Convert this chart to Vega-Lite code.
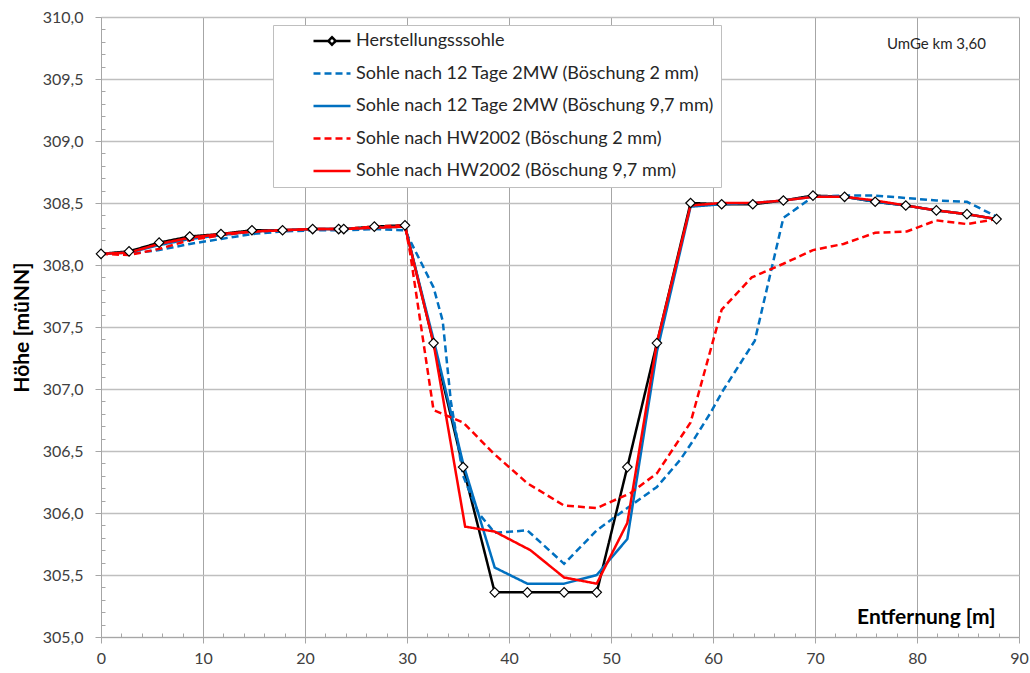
{
  "$schema": "https://vega.github.io/schema/vega-lite/v6.json",
  "width": 918,
  "height": 620,
  "autosize": {"type": "none"},
  "padding": {"left": 101, "top": 17, "right": 11, "bottom": 36},
  "background": "white",
  "config": {"font": "Lato", "view": {"stroke": null}},
  "datasets": {
    "profiles": [
      {"s": "H", "x": 0, "y": 308.09}, {"s": "H", "x": 2.75, "y": 308.11}, {"s": "H", "x": 5.7, "y": 308.18}, {"s": "H", "x": 8.7, "y": 308.23},
      {"s": "H", "x": 11.76, "y": 308.25}, {"s": "H", "x": 14.8, "y": 308.28}, {"s": "H", "x": 17.8, "y": 308.28}, {"s": "H", "x": 20.75, "y": 308.29},
      {"s": "H", "x": 23.3, "y": 308.29}, {"s": "H", "x": 23.8, "y": 308.29}, {"s": "H", "x": 26.8, "y": 308.31}, {"s": "H", "x": 29.8, "y": 308.32},
      {"s": "H", "x": 32.6, "y": 307.37}, {"s": "H", "x": 35.5, "y": 306.37}, {"s": "H", "x": 38.6, "y": 305.36}, {"s": "H", "x": 41.8, "y": 305.36},
      {"s": "H", "x": 45.4, "y": 305.36}, {"s": "H", "x": 48.6, "y": 305.36}, {"s": "H", "x": 51.6, "y": 306.37}, {"s": "H", "x": 54.5, "y": 307.37},
      {"s": "H", "x": 57.8, "y": 308.5}, {"s": "H", "x": 60.85, "y": 308.49}, {"s": "H", "x": 63.9, "y": 308.49}, {"s": "H", "x": 66.9, "y": 308.52},
      {"s": "H", "x": 69.8, "y": 308.56}, {"s": "H", "x": 72.9, "y": 308.55}, {"s": "H", "x": 75.9, "y": 308.51}, {"s": "H", "x": 78.9, "y": 308.48},
      {"s": "H", "x": 81.9, "y": 308.44}, {"s": "H", "x": 84.9, "y": 308.41}, {"s": "H", "x": 87.8, "y": 308.37},

      {"s": "B2", "x": 0, "y": 308.09}, {"s": "B2", "x": 2.75, "y": 308.09}, {"s": "B2", "x": 5.7, "y": 308.12}, {"s": "B2", "x": 8.7, "y": 308.17},
      {"s": "B2", "x": 11.76, "y": 308.21}, {"s": "B2", "x": 14.8, "y": 308.25}, {"s": "B2", "x": 17.8, "y": 308.27}, {"s": "B2", "x": 20.75, "y": 308.28},
      {"s": "B2", "x": 23.8, "y": 308.28}, {"s": "B2", "x": 26.8, "y": 308.29}, {"s": "B2", "x": 29.8, "y": 308.28}, {"s": "B2", "x": 32.6, "y": 307.82},
      {"s": "B2", "x": 33.5, "y": 307.55}, {"s": "B2", "x": 34.3, "y": 306.9}, {"s": "B2", "x": 35.5, "y": 306.3}, {"s": "B2", "x": 37.0, "y": 306.0},
      {"s": "B2", "x": 38.6, "y": 305.84}, {"s": "B2", "x": 41.8, "y": 305.86}, {"s": "B2", "x": 45.4, "y": 305.59}, {"s": "B2", "x": 48.6, "y": 305.86},
      {"s": "B2", "x": 51.6, "y": 306.04}, {"s": "B2", "x": 54.5, "y": 306.21}, {"s": "B2", "x": 56.8, "y": 306.43}, {"s": "B2", "x": 58.1, "y": 306.59},
      {"s": "B2", "x": 59.7, "y": 306.8}, {"s": "B2", "x": 61.0, "y": 306.99}, {"s": "B2", "x": 64.1, "y": 307.39}, {"s": "B2", "x": 66.9, "y": 308.38},
      {"s": "B2", "x": 69.8, "y": 308.55}, {"s": "B2", "x": 72.9, "y": 308.56}, {"s": "B2", "x": 75.9, "y": 308.56}, {"s": "B2", "x": 79.0, "y": 308.54},
      {"s": "B2", "x": 81.9, "y": 308.52}, {"s": "B2", "x": 84.9, "y": 308.51}, {"s": "B2", "x": 87.8, "y": 308.39},

      {"s": "B9", "x": 0, "y": 308.09}, {"s": "B9", "x": 2.75, "y": 308.1}, {"s": "B9", "x": 5.7, "y": 308.16}, {"s": "B9", "x": 8.7, "y": 308.21},
      {"s": "B9", "x": 11.76, "y": 308.24}, {"s": "B9", "x": 14.8, "y": 308.27}, {"s": "B9", "x": 17.8, "y": 308.28}, {"s": "B9", "x": 20.75, "y": 308.29},
      {"s": "B9", "x": 23.8, "y": 308.29}, {"s": "B9", "x": 26.8, "y": 308.3}, {"s": "B9", "x": 29.8, "y": 308.31}, {"s": "B9", "x": 32.6, "y": 307.4},
      {"s": "B9", "x": 35.5, "y": 306.4}, {"s": "B9", "x": 38.6, "y": 305.56}, {"s": "B9", "x": 41.8, "y": 305.43}, {"s": "B9", "x": 45.4, "y": 305.43},
      {"s": "B9", "x": 48.6, "y": 305.5}, {"s": "B9", "x": 51.6, "y": 305.79}, {"s": "B9", "x": 54.5, "y": 307.3}, {"s": "B9", "x": 57.8, "y": 308.47},
      {"s": "B9", "x": 60.85, "y": 308.49}, {"s": "B9", "x": 63.9, "y": 308.5}, {"s": "B9", "x": 66.9, "y": 308.52}, {"s": "B9", "x": 69.8, "y": 308.55},
      {"s": "B9", "x": 72.9, "y": 308.55}, {"s": "B9", "x": 75.9, "y": 308.51}, {"s": "B9", "x": 78.9, "y": 308.48}, {"s": "B9", "x": 81.9, "y": 308.44},
      {"s": "B9", "x": 84.9, "y": 308.41}, {"s": "B9", "x": 87.8, "y": 308.37},

      {"s": "R2", "x": 0, "y": 308.09}, {"s": "R2", "x": 2.75, "y": 308.08}, {"s": "R2", "x": 5.7, "y": 308.13}, {"s": "R2", "x": 8.7, "y": 308.2},
      {"s": "R2", "x": 11.76, "y": 308.24}, {"s": "R2", "x": 14.8, "y": 308.27}, {"s": "R2", "x": 17.8, "y": 308.28}, {"s": "R2", "x": 20.75, "y": 308.29},
      {"s": "R2", "x": 23.8, "y": 308.29}, {"s": "R2", "x": 26.8, "y": 308.31}, {"s": "R2", "x": 29.8, "y": 308.32}, {"s": "R2", "x": 30.3, "y": 308.1},
      {"s": "R2", "x": 32.6, "y": 306.83}, {"s": "R2", "x": 35.5, "y": 306.73}, {"s": "R2", "x": 38.5, "y": 306.48}, {"s": "R2", "x": 41.8, "y": 306.24},
      {"s": "R2", "x": 45.4, "y": 306.06}, {"s": "R2", "x": 48.6, "y": 306.04}, {"s": "R2", "x": 51.9, "y": 306.16}, {"s": "R2", "x": 54.5, "y": 306.32},
      {"s": "R2", "x": 57.8, "y": 306.73}, {"s": "R2", "x": 60.85, "y": 307.64}, {"s": "R2", "x": 63.8, "y": 307.9}, {"s": "R2", "x": 66.9, "y": 308.01},
      {"s": "R2", "x": 69.8, "y": 308.12}, {"s": "R2", "x": 72.8, "y": 308.17}, {"s": "R2", "x": 75.9, "y": 308.26}, {"s": "R2", "x": 79.0, "y": 308.27},
      {"s": "R2", "x": 81.9, "y": 308.36}, {"s": "R2", "x": 84.9, "y": 308.33}, {"s": "R2", "x": 87.8, "y": 308.37},

      {"s": "R9", "x": 0, "y": 308.09}, {"s": "R9", "x": 2.75, "y": 308.1}, {"s": "R9", "x": 5.7, "y": 308.17}, {"s": "R9", "x": 8.7, "y": 308.22},
      {"s": "R9", "x": 11.76, "y": 308.25}, {"s": "R9", "x": 14.8, "y": 308.27}, {"s": "R9", "x": 17.8, "y": 308.28}, {"s": "R9", "x": 20.75, "y": 308.29},
      {"s": "R9", "x": 23.8, "y": 308.29}, {"s": "R9", "x": 26.8, "y": 308.3}, {"s": "R9", "x": 29.8, "y": 308.31}, {"s": "R9", "x": 32.6, "y": 307.37},
      {"s": "R9", "x": 35.7, "y": 305.89}, {"s": "R9", "x": 38.6, "y": 305.85}, {"s": "R9", "x": 42.1, "y": 305.7}, {"s": "R9", "x": 45.4, "y": 305.48},
      {"s": "R9", "x": 48.6, "y": 305.43}, {"s": "R9", "x": 51.6, "y": 305.92}, {"s": "R9", "x": 54.5, "y": 307.37}, {"s": "R9", "x": 57.8, "y": 308.48},
      {"s": "R9", "x": 60.85, "y": 308.5}, {"s": "R9", "x": 63.9, "y": 308.5}, {"s": "R9", "x": 66.9, "y": 308.52}, {"s": "R9", "x": 69.8, "y": 308.55},
      {"s": "R9", "x": 72.9, "y": 308.55}, {"s": "R9", "x": 75.9, "y": 308.52}, {"s": "R9", "x": 78.9, "y": 308.48}, {"s": "R9", "x": 81.9, "y": 308.44},
      {"s": "R9", "x": 84.9, "y": 308.41}, {"s": "R9", "x": 87.8, "y": 308.37}
    ],
    "note": [{"x": 81.9, "y": 309.78, "t": "UmGe km 3,60"}]
  },
  "resolve": {"axis": {"x": "independent", "y": "independent"}},
  "layer": [
    {
      "data": {"name": "profiles"},
      "mark": {"type": "line", "strokeWidth": 2.5},
      "encoding": {
        "x": {
          "field": "x", "type": "quantitative",
          "scale": {"domain": [0, 90], "nice": false, "zero": false},
          "axis": {
            "values": [0, 10, 20, 30, 40, 50, 60, 70, 80, 90],
            "grid": true, "gridColor": "#a6a6a6", "gridWidth": 1,
            "domainColor": "#a6a6a6", "tickColor": "#a6a6a6", "tickSize": 6,
            "labelFontSize": 16, "labelColor": "#404040", "labelPadding": 7, "labelFlush": false,
            "title": "Entfernung [m]", "titleFontSize": 21, "titleFontWeight": "bold", "titleColor": "#000000",
            "titleX": 894, "titleY": -20, "titleAlign": "right", "titleBaseline": "middle", "titleAnchor": "end"
          }
        },
        "y": {
          "field": "y", "type": "quantitative",
          "scale": {"domain": [305, 310], "nice": false, "zero": false},
          "axis": {
            "values": [305, 305.5, 306, 306.5, 307, 307.5, 308, 308.5, 309, 309.5, 310],
            "labelExpr": "replace(format(datum.value, '.1f'), '.', ',')",
            "grid": true, "gridColor": "#bfbfbf", "gridWidth": 1.3, "labelFlush": false,
            "domainColor": "#a6a6a6", "tickColor": "#a6a6a6", "tickSize": 6,
            "labelFontSize": 16, "labelColor": "#404040", "labelPadding": 12,
            "title": "Höhe [müNN]", "titleFontSize": 21, "titleFontWeight": "bold", "titleColor": "#000000", "titlePadding": 10
          }
        },
        "color": {
          "field": "s", "type": "nominal",
          "scale": {"domain": ["H", "B2", "B9", "R2", "R9"], "range": ["#000000", "#0070C0", "#0070C0", "#FF0000", "#FF0000"]},
          "legend": {
            "orient": "none", "legendX": 172, "legendY": 8, "title": null, "direction": "vertical",
            "padding": 7, "strokeColor": "#bfbfbf", "fillColor": "white",
            "symbolOffset": 32, "symbolSize": 1369, "symbolStrokeWidth": 2.5, "symbolType": "stroke",
            "labelFontSize": 18, "labelColor": "#262626", "labelOffset": 4, "rowPadding": 14.5, "clipHeight": 18, "labelLimit": 600,
            "labelExpr": "datum.value === 'H' ? 'Herstellungsssohle' : datum.value === 'B2' ? 'Sohle nach 12 Tage 2MW (Böschung 2 mm)' : datum.value === 'B9' ? 'Sohle nach 12 Tage 2MW (Böschung 9,7 mm)' : datum.value === 'R2' ? 'Sohle nach HW2002 (Böschung 2 mm)' : 'Sohle nach HW2002 (Böschung 9,7 mm)'",
            "encode": {"symbols": {"update": {"shape": {"signal": "datum.value === 'H' ? 'M-1,0L-0.2,0M0.2,0L1,0M0,-0.2L0.2,0L0,0.2L-0.2,0Z' : 'stroke'"}}}}
          }
        },
        "strokeDash": {
          "field": "s", "type": "nominal",
          "scale": {"domain": ["H", "B2", "B9", "R2", "R9"], "range": [[1, 0], [7, 4], [1, 0], [7, 4], [1, 0]]},
          "legend": {
            "orient": "none", "legendX": 172, "legendY": 8, "title": null, "direction": "vertical",
            "padding": 7, "strokeColor": "#bfbfbf", "fillColor": "white",
            "symbolOffset": 32, "symbolSize": 1369, "symbolStrokeWidth": 2.5, "symbolType": "stroke",
            "labelFontSize": 18, "labelColor": "#262626", "labelOffset": 4, "rowPadding": 14.5, "clipHeight": 18, "labelLimit": 600,
            "labelExpr": "datum.value === 'H' ? 'Herstellungsssohle' : datum.value === 'B2' ? 'Sohle nach 12 Tage 2MW (Böschung 2 mm)' : datum.value === 'B9' ? 'Sohle nach 12 Tage 2MW (Böschung 9,7 mm)' : datum.value === 'R2' ? 'Sohle nach HW2002 (Böschung 2 mm)' : 'Sohle nach HW2002 (Böschung 9,7 mm)'",
            "encode": {"symbols": {"update": {"shape": {"signal": "datum.value === 'H' ? 'M-1,0L-0.2,0M0.2,0L1,0M0,-0.2L0.2,0L0,0.2L-0.2,0Z' : 'stroke'"}}}}
          }
        }
      }
    },
    {
      "data": {"name": "profiles"},
      "transform": [{"filter": "datum.s === 'H'"}],
      "mark": {"type": "point", "shape": "diamond", "filled": true, "fill": "white", "stroke": "black", "strokeWidth": 1.2, "size": 90, "opacity": 1},
      "encoding": {
        "x": {
          "field": "x", "type": "quantitative",
          "axis": {
            "orient": "bottom", "values": [2, 4, 6, 8, 12, 14, 16, 18, 22, 24, 26, 28, 32, 34, 36, 38, 42, 44, 46, 48, 52, 54, 56, 58, 62, 64, 66, 68, 72, 74, 76, 78, 82, 84, 86, 88],
            "labels": false, "grid": false, "domain": false, "ticks": true, "tickSize": -4, "tickColor": "#a6a6a6", "title": null
          }
        },
        "y": {
          "field": "y", "type": "quantitative",
          "axis": {
            "orient": "left", "values": [305.1, 305.2, 305.3, 305.4, 305.6, 305.7, 305.8, 305.9, 306.1, 306.2, 306.3, 306.4, 306.6, 306.7, 306.8, 306.9, 307.1, 307.2, 307.3, 307.4, 307.6, 307.7, 307.8, 307.9, 308.1, 308.2, 308.3, 308.4, 308.6, 308.7, 308.8, 308.9, 309.1, 309.2, 309.3, 309.4, 309.6, 309.7, 309.8, 309.9],
            "labels": false, "grid": false, "domain": false, "ticks": true, "tickSize": -4, "tickColor": "#a6a6a6", "title": null
          }
        }
      }
    },
    {
      "data": {"name": "note"},
      "mark": {"type": "text", "fontSize": 15, "color": "#262626", "align": "center", "baseline": "middle"},
      "encoding": {
        "x": {"field": "x", "type": "quantitative", "axis": null},
        "y": {"field": "y", "type": "quantitative", "axis": null},
        "text": {"field": "t"}
      }
    }
  ]
}
